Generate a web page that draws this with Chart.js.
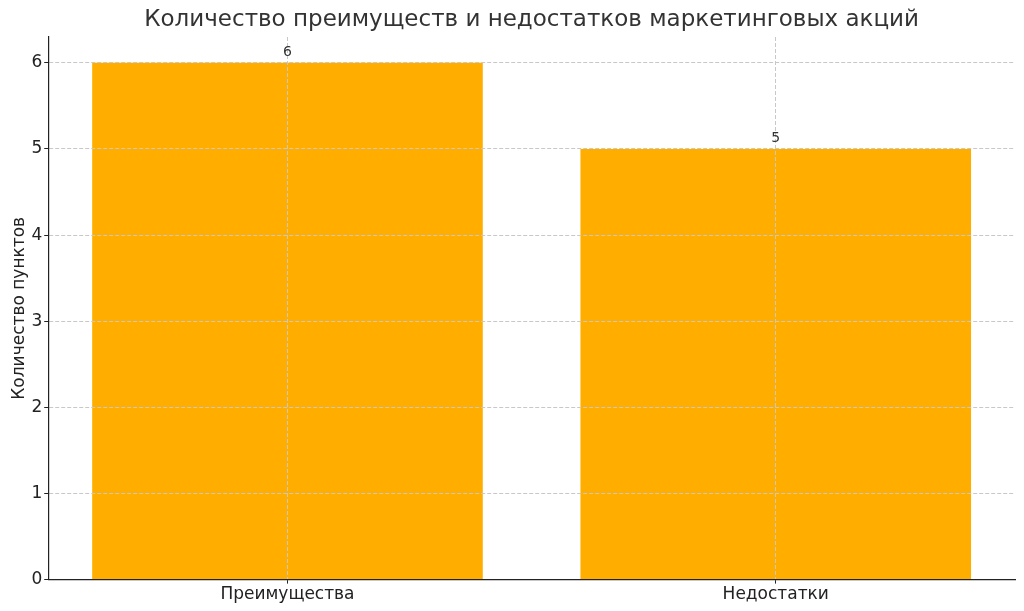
<!DOCTYPE html>
<html>
<head>
<meta charset="utf-8">
<script src="https://cdn.jsdelivr.net/npm/chart.js@4"></script>
<style>
  html, body { margin: 0; padding: 0; background: #fff; }
  #wrap { width: 1024px; height: 611px; }
</style>
</head>
<body>
<div id="wrap"><canvas id="chart"></canvas></div>
<script>
const categories = ['Преимущества', 'Недостатки']
const counts = [6, 5]
const yTicks = [0, 1, 2, 3, 4, 5, 6]
const chartTitle = 'Количество преимуществ и недостатков маркетинговых акций'

const barColor = '#FFAE00'
const fontFamily = '"DejaVu Sans", sans-serif'

// value labels above the bars + title centred over the plot area
const extras = {
    id: 'extras',
    afterDraw(chart) {
        const ctx = chart.ctx
        const area = chart.chartArea
        const meta = chart.getDatasetMeta(0)
        ctx.save()
        ctx.font = '14px ' + fontFamily
        ctx.fillStyle = '#333'
        ctx.textAlign = 'center'
        ctx.textBaseline = 'alphabetic'
        meta.data.forEach((bar, i) => {
            ctx.fillText(String(counts[i]), bar.x, bar.y - 7)
        })
        ctx.font = '23px ' + fontFamily
        ctx.textBaseline = 'middle'
        ctx.fillText(chartTitle, (area.left + area.right) / 2, 20)
        ctx.restore()
    }
}

const gridStyle = {
    z: 1,
    offset: false,
    color: '#c8c8c8',
    tickBorderDash: [],
    tickColor: '#222',
    tickLength: 4,
    lineWidth: 1
}

const ctx = document.getElementById('chart').getContext('2d')

new Chart(ctx, {
    type: 'bar',
    data: {
        datasets: [{
            data: counts.map((c, i) => ({ x: i, y: c })),
            backgroundColor: barColor,
            borderWidth: 0,
            barPercentage: 0.8,
            categoryPercentage: 1
        }]
    },
    options: {
        responsive: true,
        maintainAspectRatio: false,
        animation: false,
        layout: { padding: { left: 9, right: 9, top: 37, bottom: 5 } },
        plugins: {
            legend: { display: false },
            tooltip: { enabled: false },
            title: { display: false }
        },
        scales: {
            x: {
                type: 'linear',
                offset: false,
                min: -0.49,
                max: 1.49,
                afterBuildTicks(scale) {
                    scale.ticks = categories.map((c, i) => ({ value: i }))
                },
                grid: gridStyle,
                border: { display: true, z: 2, color: '#222', width: 1.2, dash: [4, 2] },
                ticks: {
                    color: '#222',
                    font: { family: fontFamily, size: 17 },
                    padding: 1,
                    maxRotation: 0,
                    callback: v => categories[v]
                }
            },
            y: {
                min: 0,
                max: 6.3,
                afterBuildTicks(scale) {
                    scale.ticks = yTicks.map(v => ({ value: v }))
                },
                grid: gridStyle,
                border: { display: true, z: 2, color: '#222', width: 1.2, dash: [4, 2] },
                ticks: {
                    color: '#222',
                    font: { family: fontFamily, size: 17 },
                    padding: 2
                },
                title: {
                    display: true,
                    text: 'Количество пунктов',
                    color: '#222',
                    font: { family: fontFamily, size: 17 },
                    padding: { top: 0, bottom: 0 }
                }
            }
        }
    },
    plugins: [extras]
})
</script>
</body>
</html>
